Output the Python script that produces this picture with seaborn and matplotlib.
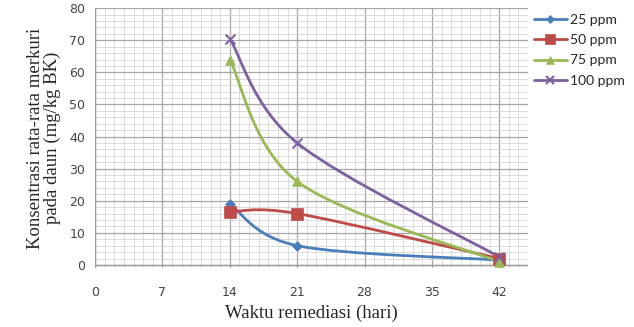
import numpy as np
import pandas as pd
import matplotlib
matplotlib.use('Agg')
import matplotlib.pyplot as plt
from matplotlib.path import Path
from matplotlib.patches import PathPatch
from matplotlib.ticker import MultipleLocator
import seaborn as sns

# data
hari = [14, 21, 42]
ppm25 = [19.0, 6.0, 1.5]
ppm50 = [16.5, 16.0, 2.0]
ppm75 = [64.0, 26.0, 1.0]
ppm100 = [70.5, 38.0, 2.5]
seri = ['25 ppm', '50 ppm', '75 ppm', '100 ppm']

df = pd.DataFrame({'hari': hari * 4,
                   'nilai': ppm25 + ppm50 + ppm75 + ppm100,
                   'seri': [s for s in seri for _ in hari]})

warna = {'25 ppm': '#4a7ebb', '50 ppm': '#be4b48', '75 ppm': '#98b954', '100 ppm': '#7d60a0'}
penanda = {'25 ppm': 'D', '50 ppm': 's', '75 ppm': '^', '100 ppm': 'x'}
ukuran = {'25 ppm': 5, '50 ppm': 8, '75 ppm': 7, '100 ppm': 7}

sns.set_theme(style='white')
fig = plt.figure(figsize=(6.34, 3.27), dpi=100)
ax = fig.add_axes([0.150, 0.180, 0.683, 0.795])


def kurva(x, y):
    # smoothed line like excel (bezier through the data points)
    x = np.asarray(x, float); y = np.asarray(y, float)
    n = len(x)
    verts = [(x[0], y[0])]
    codes = [Path.MOVETO]
    for i in range(n - 1):
        p0 = np.array([x[max(i - 1, 0)], y[max(i - 1, 0)]])
        p1 = np.array([x[i], y[i]])
        p2 = np.array([x[i + 1], y[i + 1]])
        p3 = np.array([x[min(i + 2, n - 1)], y[min(i + 2, n - 1)]])
        c1 = p1 + (p2 - p0) / 6
        c2 = p2 - (p3 - p1) / 6
        verts += [tuple(c1), tuple(c2), tuple(p2)]
        codes += [Path.CURVE4] * 3
    return Path(verts, codes)


for s in seri:
    d = df[df.seri == s]
    ax.add_patch(PathPatch(kurva(d.hari, d.nilai), fill=False, edgecolor=warna[s], lw=2, zorder=3))
    sns.scatterplot(data=d, x='hari', y='nilai', color=warna[s], marker=penanda[s],
                    s=ukuran[s] ** 2, edgecolor=warna[s] if penanda[s] != 'x' else None,
                    linewidth=1.5 if penanda[s] == 'x' else 0.5, ax=ax, zorder=4)

ax.set_xlim(0, 45)
ax.set_ylim(-1, 80)
ax.xaxis.set_major_locator(MultipleLocator(7))
ax.xaxis.set_minor_locator(MultipleLocator(1))
ax.yaxis.set_major_locator(MultipleLocator(10))
ax.yaxis.set_minor_locator(MultipleLocator(2))
ax.set_xticks([0, 7, 14, 21, 28, 35, 42])
ax.grid(which='major', color='#a6a6a6', lw=0.9)
ax.grid(which='minor', color='#d4d4d4', lw=0.6)
ax.set_axisbelow(True)
for sp in ax.spines.values():
    sp.set_visible(False)
ax.axhline(0, color='#9a9a9a', lw=1, zorder=2)
ax.axvline(0, color='#9a9a9a', lw=1, zorder=2)
ax.tick_params(axis='x', which='both', length=0, pad=13, labelsize=9, labelcolor='#444444')
ax.tick_params(axis='y', which='both', length=0, pad=7, labelsize=9, labelcolor='#444444')

ax.set_xlabel('Waktu remediasi (hari)', family='Liberation Serif', fontsize=13.5, labelpad=4)
ax.set_ylabel('Konsentrasi rata-rata merkuri\npada daun (mg/kg BK)', family='Liberation Serif',
              fontsize=13.5, labelpad=6, linespacing=1.0)

handles = [plt.Line2D([], [], color=warna[s], lw=2, marker=penanda[s], markersize=ukuran[s] * 0.9,
                      markeredgewidth=1.5 if penanda[s] == 'x' else 0.5) for s in seri]
leg = ax.legend(handles, seri, loc='upper left', bbox_to_anchor=(1.0, 1.0), frameon=False,
                handlelength=2.4, handletextpad=0.2, labelspacing=0.6, borderaxespad=0.0,
                prop={'family': 'Lato', 'size': 10})

fig.savefig('out.png', dpi=100)
